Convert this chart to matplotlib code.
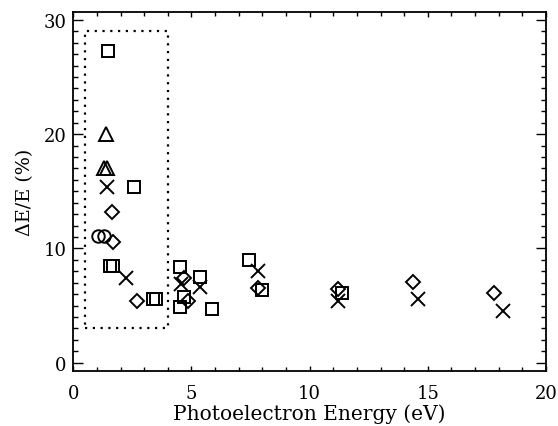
import matplotlib
matplotlib.use("Agg")
import matplotlib.pyplot as plt
from matplotlib.ticker import MultipleLocator

# Data
sq_x = [1.45, 2.57, 1.55, 1.68, 3.36, 3.49, 4.51, 5.36, 4.68, 4.51, 5.85, 7.43, 7.98, 11.36]
sq_y = [27.3, 15.4, 8.45, 8.45, 5.6, 5.6, 8.4, 7.5, 5.75, 4.9, 4.7, 9.0, 6.35, 6.1]

tri_x = [1.38, 1.28, 1.42]
tri_y = [20.0, 17.0, 17.0]

cross_x = [1.43, 2.21, 4.54, 5.36, 7.8, 11.2, 14.58, 18.18]
cross_y = [15.4, 7.4, 6.9, 6.6, 8.0, 5.4, 5.57, 4.5]

dia_x = [1.63, 1.69, 2.69, 4.68, 4.85, 7.81, 11.2, 14.37, 17.8]
dia_y = [13.2, 10.6, 5.4, 7.4, 5.4, 6.5, 6.45, 7.06, 6.1]

circ_x = [1.06, 1.31]
circ_y = [11.1, 11.1]

box_x = [0.5, 4.0, 4.0, 0.5, 0.5]
box_y = [3.0, 3.0, 29.0, 29.0, 3.0]

xticks = [0, 5, 10, 15, 20]
yticks = [0, 10, 20, 30]

plt.rcParams['font.family'] = ['DejaVu Serif']

fig = plt.figure(figsize=(5.58, 4.27), dpi=100)
ax = fig.add_axes([0.1314, 0.1288, 0.8471, 0.8401])

mk = dict(linestyle='none', color='black', markerfacecolor='none', markeredgewidth=1.4)
ax.plot(sq_x, sq_y, marker='s', markersize=8.6, **mk)
ax.plot(tri_x, tri_y, marker='^', markersize=10.5, **mk)
ax.plot(cross_x, cross_y, marker='x', markersize=10, **mk)
ax.plot(dia_x, dia_y, marker='D', markersize=7.4, **mk)
ax.plot(circ_x, circ_y, marker='o', markersize=9, **mk)

ax.plot(box_x, box_y, color='black', linewidth=1.6, linestyle=(0, (1, 2.5)))

ax.set_xlim(0, 20)
ax.set_ylim(-0.73, 30.66)
ax.set_xticks(xticks)
ax.set_yticks(yticks)
ax.xaxis.set_minor_locator(MultipleLocator(1))
ax.yaxis.set_minor_locator(MultipleLocator(1))
ax.tick_params(which='both', direction='in', top=True, right=True, labelsize=13, width=1.0)
ax.tick_params(axis='x', which='major', length=3.5, pad=9.5)
ax.tick_params(axis='x', which='minor', length=3)
ax.tick_params(axis='y', which='major', length=7, pad=5)
ax.tick_params(axis='y', which='minor', length=3.5)
for s in ax.spines.values():
    s.set_linewidth(1.3)

ax.set_xlabel('Photoelectron Energy (eV)', fontsize=14.5, labelpad=1)
ax.set_ylabel('ΔE/E (%)', fontsize=13.8, labelpad=7)

fig.savefig('out.png', dpi=100)
